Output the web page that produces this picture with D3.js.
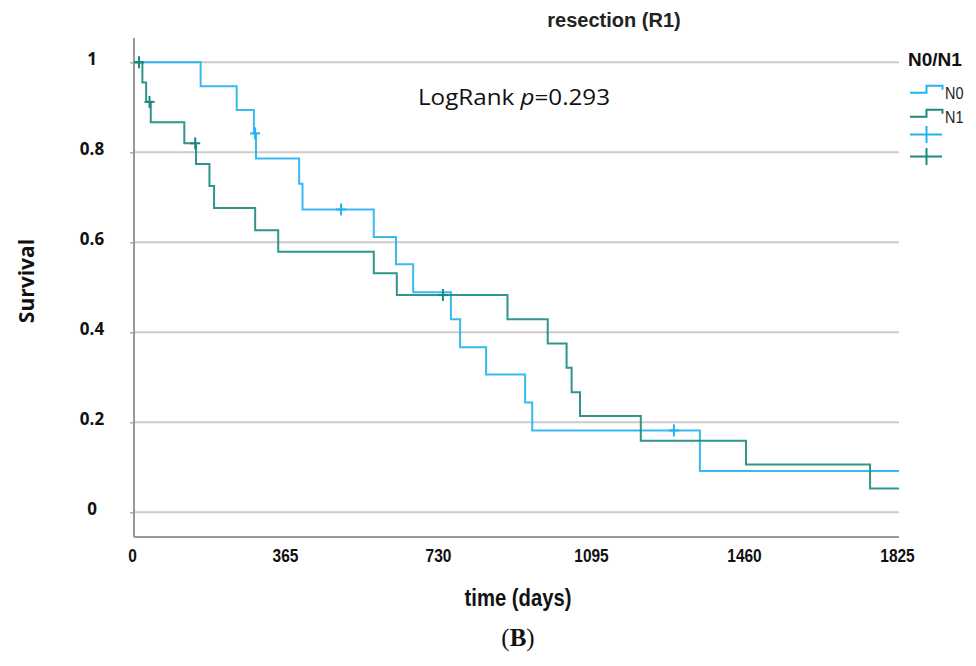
<!DOCTYPE html>
<html>
<head>
<meta charset="utf-8">
<script src="https://cdn.jsdelivr.net/npm/d3@7"></script>
<style>
body { margin: 0; background: #fff; }
svg { display: block; }
</style>
</head>
<body>
<svg id="chart" width="976" height="666"></svg>
<script>
// Kaplan-Meier steps
let n0Times = [0, 159, 245, 286, 291, 394, 402, 572, 625, 666, 756, 778, 840, 933, 950, 1350, 1825];
let n0Surv = [1, 0.947, 0.894, 0.842, 0.786, 0.730, 0.673, 0.612, 0.551, 0.489, 0.429, 0.367, 0.306, 0.244, 0.182, 0.092, 0.092];
let n0Censor = [289, 494, 1288];

let n1Times = [0, 20, 29, 40, 120, 148, 180, 191, 289, 344, 572, 627, 891, 987, 1032, 1044, 1064, 1209, 1460, 1756, 1825];
let n1Surv = [1, 0.955, 0.912, 0.867, 0.820, 0.774, 0.725, 0.676, 0.627, 0.579, 0.531, 0.483, 0.429, 0.375, 0.321, 0.267, 0.214, 0.159, 0.106, 0.053, 0.053];
let n1Censor = [12, 37, 146, 737];

let xTicks = [0, 365, 730, 1095, 1460, 1825];
let yTicks = [0, 0.2, 0.4, 0.6, 0.8, 1];
let groups = ["N0", "N1"];
let colors = ["#22b2ee", "#1a8a7e"];

let svg = d3.select("#chart");

let x = d3.scaleLinear().domain([0, 1825]).range([134, 899]);
let y = d3.scaleLinear().domain([0, 1]).range([512.3, 62.3]);

// gridlines
svg.append("g")
    .selectAll("line")
    .data(yTicks)
    .enter().append("line")
    .attr("x1", x(0)).attr("x2", x(1825))
    .attr("y1", d => y(d)).attr("y2", d => y(d))
    .attr("stroke", "#cbcbcb")
    .attr("stroke-width", 2);

// axes
let yAxis = d3.axisLeft(y).tickValues(yTicks).tickSize(4).tickFormat(d => d3.format("~g")(d));
let ga = svg.append("g").attr("transform", "translate(" + x(0) + ",0)").call(yAxis);
ga.select(".domain").remove();
ga.selectAll(".tick line").attr("stroke", "#aaa").attr("stroke-width", 1.5);
ga.selectAll(".tick text")
    .attr("x", -42).attr("dy", "0.1em")
    .attr("text-anchor", "middle")
    .style("font-family", "'Open Sans', sans-serif")
    .style("font-weight", "bold")
    .style("font-size", "17px")
    .attr("fill", "#111");

svg.append("line")
    .attr("x1", x(0)).attr("x2", x(0))
    .attr("y1", 38).attr("y2", 537)
    .attr("stroke", "#999").attr("stroke-width", 2);
svg.append("line")
    .attr("x1", x(0)).attr("x2", x(1825))
    .attr("y1", 537).attr("y2", 537)
    .attr("stroke", "#999").attr("stroke-width", 2);

let xAxis = d3.axisBottom(x).tickValues(xTicks).tickSize(0).tickFormat(d3.format("d"));
let gx = svg.append("g").attr("transform", "translate(0,537)").call(xAxis);
gx.select(".domain").remove();
gx.selectAll(".tick text")
    .attr("y", 12)
    .attr("transform", "translate(-2,0) scale(0.86,1)")
    .style("font-family", "'Liberation Sans', Arial, sans-serif")
    .style("font-weight", "bold")
    .style("font-size", "18px")
    .attr("fill", "#111");

// curves
let line = d3.line()
    .x(d => x(d[0]))
    .y(d => y(d[1]))
    .curve(d3.curveStepAfter);

function survAt(times, surv, t) {
    let i = d3.bisectRight(times, t) - 1;
    return surv[Math.max(0, i)];
}

let series = [
    {times: n0Times, surv: n0Surv, cens: n0Censor, color: colors[0]},
    {times: n1Times, surv: n1Surv, cens: n1Censor, color: colors[1]}
];

series.forEach(function(s) {
    svg.append("path")
        .datum(d3.zip(s.times, s.surv))
        .attr("d", line)
        .attr("fill", "none")
        .attr("stroke", s.color)
        .attr("stroke-width", 2)
        .attr("stroke-opacity", 0.9);

    let g = svg.append("g").attr("stroke", s.color).attr("stroke-width", 2);
    s.cens.forEach(function(t) {
        let cx = x(t), cy = y(survAt(s.times, s.surv, t));
        g.append("line").attr("x1", cx - 5).attr("x2", cx + 5).attr("y1", cy).attr("y2", cy);
        g.append("line").attr("x1", cx).attr("x2", cx).attr("y1", cy - 6).attr("y2", cy + 6);
    });
});

// texts
svg.append("text")
    .attr("x", 614).attr("y", 27)
    .attr("text-anchor", "middle")
    .style("font-family", "'Liberation Sans', Arial, sans-serif")
    .style("font-weight", "bold")
    .style("font-size", "20px")
    .attr("fill", "#222")
    .text("resection (R1)");

let lr = svg.append("text")
    .attr("x", 418).attr("y", 105)
    .attr("textLength", 192)
    .attr("lengthAdjust", "spacingAndGlyphs")
    .style("font-family", "'Open Sans', sans-serif")
    .style("font-size", "22px")
    .attr("fill", "#111");
lr.append("tspan").text("LogRank ");
lr.append("tspan").style("font-style", "italic").text("p");
lr.append("tspan").text("=0.293");

svg.append("text")
    .attr("transform", "translate(34,281) rotate(-90)")
    .attr("text-anchor", "middle")
    .style("font-family", "'Open Sans', sans-serif")
    .style("font-weight", "bold")
    .style("font-size", "21px")
    .attr("fill", "#111")
    .text("Survival");

svg.append("text")
    .attr("transform", "translate(518,606) scale(0.88,1)")
    .attr("text-anchor", "middle")
    .style("font-family", "'Liberation Sans', Arial, sans-serif")
    .style("font-weight", "bold")
    .style("font-size", "23px")
    .attr("fill", "#111")
    .text("time (days)");

let cap = svg.append("text")
    .attr("x", 518).attr("y", 646)
    .attr("text-anchor", "middle")
    .style("font-family", "'Liberation Serif', 'DejaVu Serif', serif")
    .style("font-size", "25px")
    .attr("fill", "#111");
cap.append("tspan").text("(");
cap.append("tspan").style("font-weight", "bold").text("B");
cap.append("tspan").text(")");

// legend
svg.append("text")
    .attr("x", 908).attr("y", 66)
    .style("font-family", "'Liberation Sans', Arial, sans-serif")
    .style("font-weight", "bold")
    .style("font-size", "19px")
    .attr("fill", "#111")
    .text("N0/N1");

groups.forEach(function(name, i) {
    let ly = 92.7 + i * 24;
    svg.append("path")
        .attr("d", "M910," + ly + "H926.5V" + (ly - 7) + "H942.5V" + (ly - 3))
        .attr("fill", "none")
        .attr("stroke", colors[i])
        .attr("stroke-width", 2);
    svg.append("text")
        .attr("transform", "translate(945," + (ly + 6) + ") scale(0.85,1)")
        .style("font-family", "'Liberation Sans', Arial, sans-serif")
        .style("font-size", "17px")
        .attr("fill", "#222")
        .text(name);

    let cy = 134.5 + i * 22;
    let g = svg.append("g").attr("stroke", colors[i]).attr("stroke-width", 2);
    g.append("line").attr("x1", 910).attr("x2", 942).attr("y1", cy).attr("y2", cy);
    g.append("line").attr("x1", 926.5).attr("x2", 926.5).attr("y1", cy - 8.5).attr("y2", cy + 8.5);
});
</script>
</body>
</html>
